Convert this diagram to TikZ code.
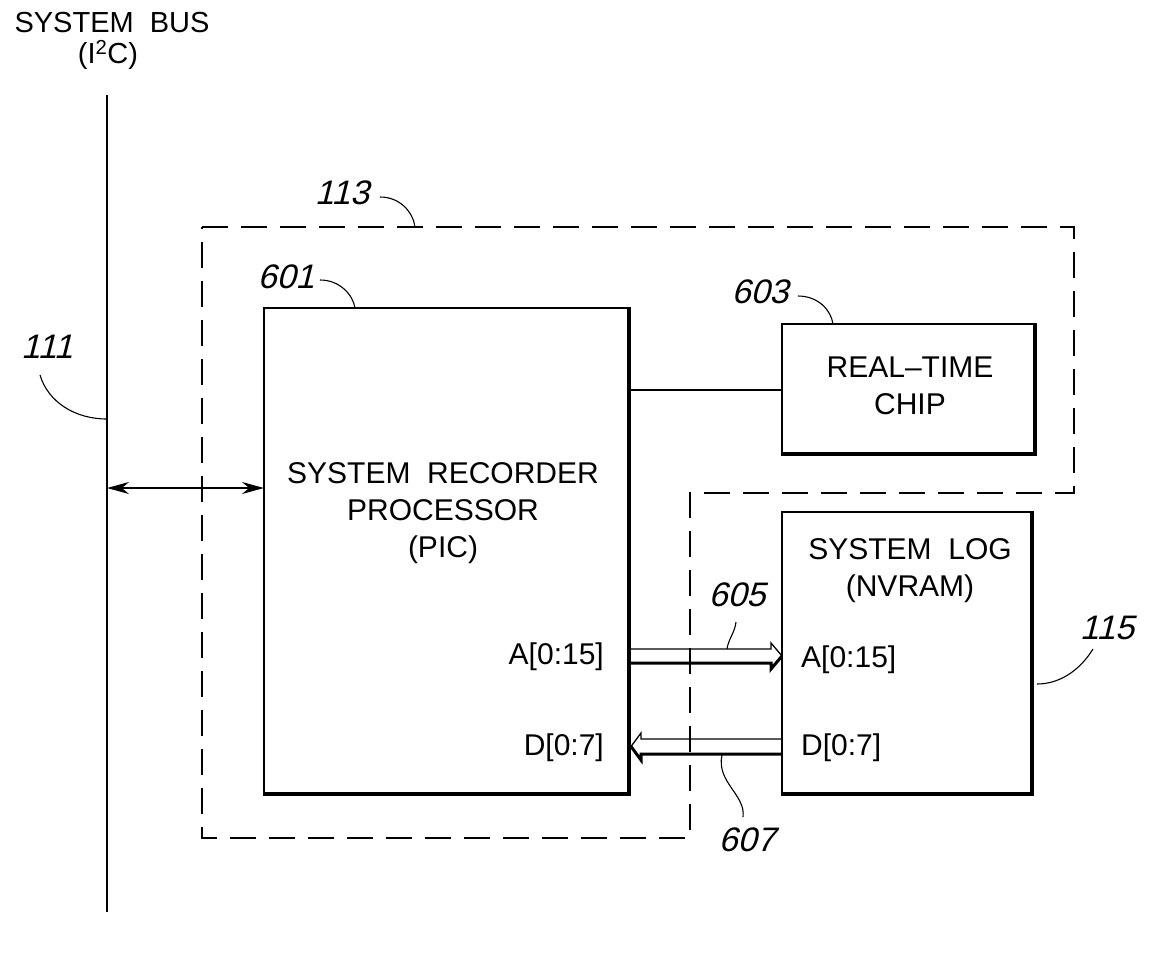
\documentclass[tikz,border=0pt]{standalone}
\usepackage{fontspec}
\setmainfont{Liberation Sans}
\newfontfamily\lblfont[FakeSlant=0.25]{Liberation Sans}
\usetikzlibrary{arrows.meta}
\tikzset{
  blk/.style={draw, line width=1.5pt, inner sep=0pt, outer sep=0pt},
  shadowline/.style={line width=3.6pt},
  txt/.style={font=\fontsize{30}{37}\selectfont, align=center, inner sep=0pt},
  lbl/.style={font=\fontsize{34}{38}\selectfont\lblfont, inner sep=0pt},
  leader/.style={line width=1.1pt},
  dashbox/.style={line width=1.3pt, dash pattern=on 26pt off 13pt},
  busline/.style={line width=2.2pt},
  buspipe/.style={line width=1.3pt, line join=miter},
  buspipethick/.style={line width=3pt},
}
\begin{document}
\begin{tikzpicture}[x=1pt,y=-1pt]
\useasboundingbox (0,0) rectangle (1151,954);

% system bus
\node[font=\fontsize{29}{32}\selectfont, inner sep=0pt] (busname) at (112,23) {SYSTEM\ \ BUS};
\node[font=\fontsize{29}{32}\selectfont, inner sep=0pt] (busproto) at (108,55) {(I\textsuperscript{2}C)};
\coordinate (bt) at (107,95);
\coordinate (bb) at (107,912);
\draw[busline] (bt) -- (bb);

% dashed group 113
\draw[dashbox] (202,227) -- (1074,227) -- (1074,493) -- (690,493) -- (690,838) -- (202,838) -- cycle;

% boxes
\node[blk, minimum width=366pt, minimum height=487pt, anchor=north west] (p601) at (264,308) {};
\node[blk, minimum width=254pt, minimum height=131pt, anchor=north west] (p603) at (782,324) {};
\node[blk, minimum width=251pt, minimum height=283pt, anchor=north west] (p115) at (782,512) {};
\foreach \b in {p601,p603,p115}{
  \draw[shadowline] ([xshift=-1.2pt]\b.north east) -- ([xshift=-1.2pt,yshift=1.2pt]\b.south east) -- ([yshift=1.2pt]\b.south west);
}

% texts
\node[txt] (t601) at (443,513) {SYSTEM\ \ RECORDER\\PROCESSOR\\(PIC)};
\node[txt, anchor=east] (a601) at (604,657) {A[0:15]};
\node[txt, anchor=east] (d601) at (604,748) {D[0:7]};
\node[txt] (t603) at (910,386) {REAL--TIME\\CHIP};
\node[txt] (t115) at (910,571) {SYSTEM\ \ LOG\\(NVRAM)};
\node[txt, anchor=west] (a115) at (801,660) {A[0:15]};
\node[txt, anchor=west] (d115) at (801,748) {D[0:7]};

% connections
\coordinate (arL) at (107,488);
\draw[line width=1.8pt, {Stealth[length=22pt,width=12pt]}-{Stealth[length=22pt,width=12pt]}] (arL) -- (arL -| p601.west);
\draw[line width=2pt] (p603.west) -- (p603.west -| p601.east);

% address bus (hollow, to the right)
\coordinate (aA) at (630,649);
\coordinate (aB) at (630,663);
\draw[buspipe] (aA) -- (771,649) -- (771,643) -- (782,656) -- (771,669) -- (771,663) -- (aB);
\draw[buspipethick] (aB) -- (771,663) -- (771,669) -- (782,656);
% data bus (hollow, to the left)
\coordinate (dA) at (782,739);
\coordinate (dB) at (782,754);
\draw[buspipe] (dA) -- (641,739) -- (641,733) -- (631,746.5) -- (641,760) -- (641,754) -- (dB);
\draw[buspipethick] (dB) -- (641,754) -- (641,760) -- (631,746.5);

% reference labels
\node[lbl] (l113) at (342,193) {113};
\node[lbl] (l601) at (286,277) {601};
\node[lbl] (l603) at (760,292) {603};
\node[lbl] (l111) at (47,347) {111};
\node[lbl] (l605) at (737,595) {605};
\node[lbl] (l607) at (747,840) {607};
\node[lbl] (l115) at (1107,628) {115};

\draw[leader] (380,197) .. controls (400,197) and (413,212) .. (415,227);
\draw[leader] (320,280) .. controls (340,280) and (353,295) .. (355,308);
\draw[leader] (798,296) .. controls (818,296) and (831,310) .. (833,324);
\draw[leader] (40,375) .. controls (48,402) and (75,419) .. (107,419);
\draw[leader] (736,622) .. controls (735,632) and (728,640) .. (727,649);
\draw[leader] (722,755) .. controls (716,782) and (746,795) .. (743,817);
\draw[leader] (1093,649) .. controls (1080,670) and (1060,684) .. (1037,684);
\end{tikzpicture}
\end{document}
